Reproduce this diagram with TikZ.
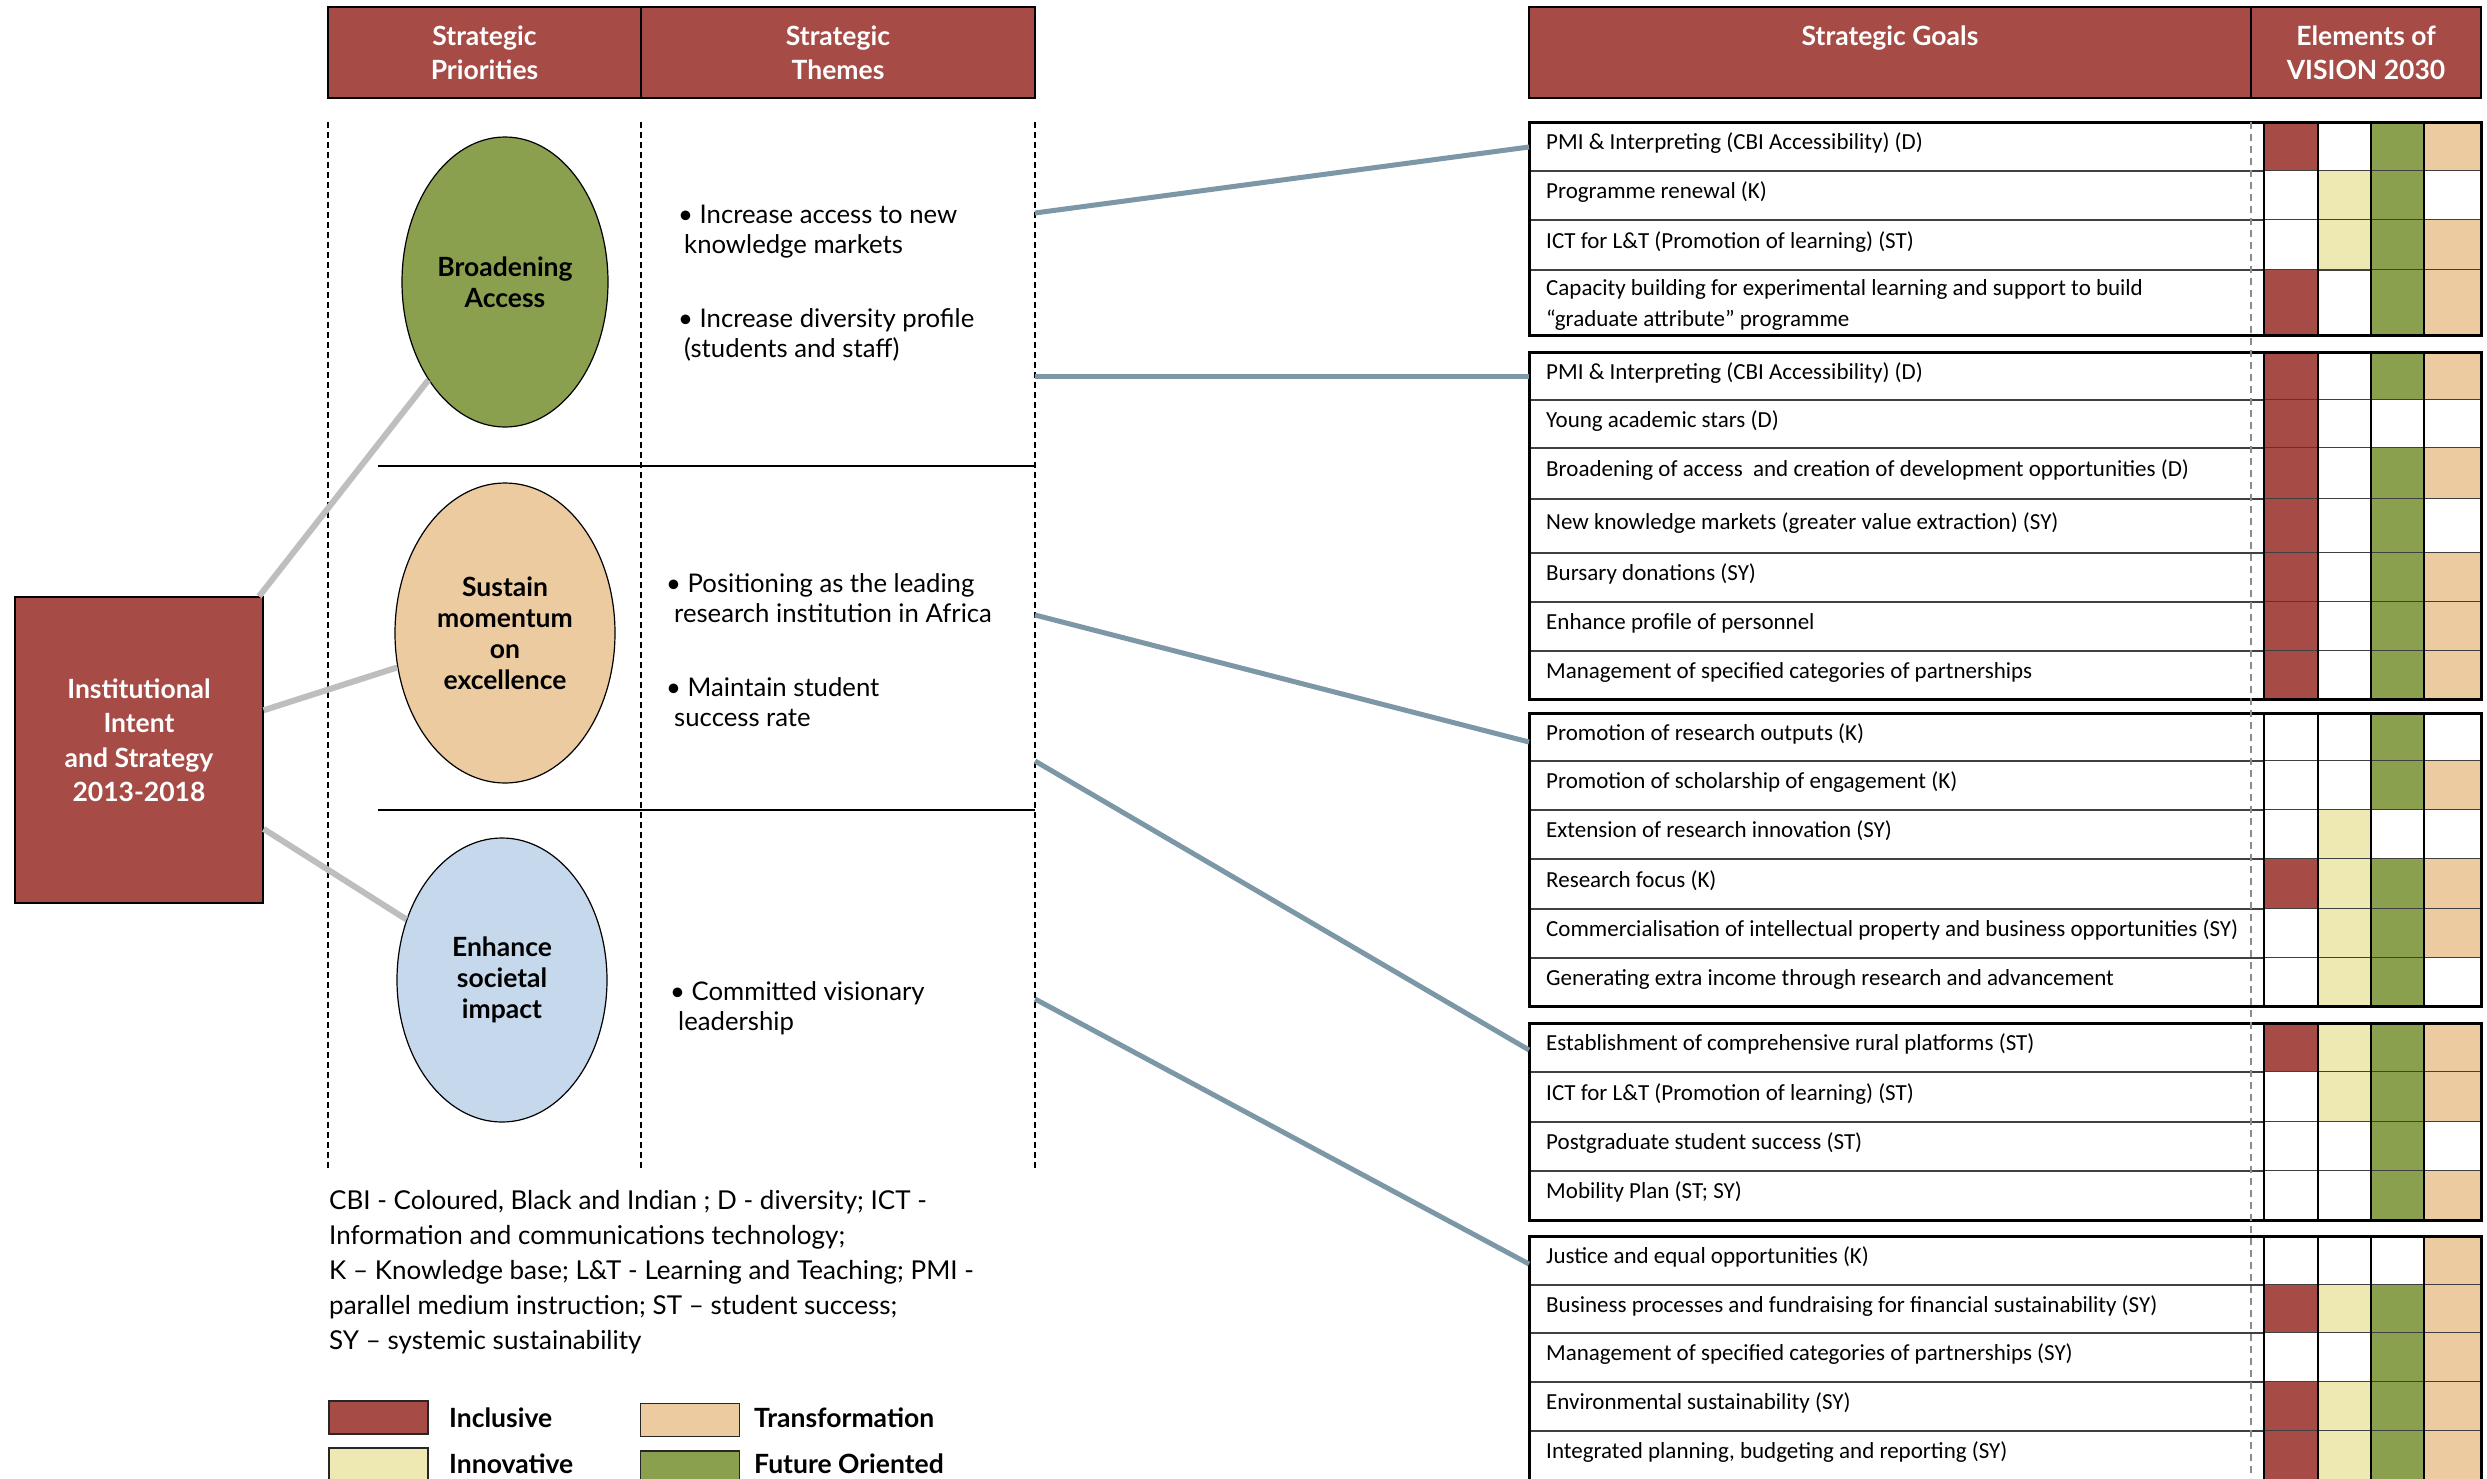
\documentclass[tikz,border=0pt]{standalone}
\usepackage{fontspec}
\setmainfont{Lato}
\newfontfamily\tabfont{Carlito}
\usetikzlibrary{shapes.geometric}
\definecolor{cR}{HTML}{A64B45}
\definecolor{cY}{HTML}{EEE8B2}
\definecolor{cG}{HTML}{8AA04E}
\definecolor{cT}{HTML}{EBCB9F}
\definecolor{cB}{HTML}{C6D8EC}
\definecolor{cW}{HTML}{FFFFFF}
\definecolor{linkblue}{HTML}{7C97A5}
\definecolor{linkgray}{HTML}{BEBEBE}
\tikzset{
  hdrbox/.style={draw=black, line width=1.6pt, fill=cR, inner sep=0pt, text=white, align=center,
     font=\fontsize{26.5}{34}\selectfont\bfseries},
  prio/.style={ellipse, draw=black, line width=1.2pt, inner sep=0pt, align=center,
     font=\fontsize{26.5}{31}\selectfont\bfseries},
  theme/.style={anchor=west, inner sep=0pt, align=left, font=\fontsize{25.7}{30}\selectfont},
  goaltext/.style={anchor=west, inner sep=0pt, align=left, font=\tabfont\fontsize{23}{31}\selectfont},
  vdash/.style={draw=black, line width=1.1pt, dash pattern=on 6pt off 4pt},
  tdash/.style={draw=black!45, line width=1.1pt, dash pattern=on 7pt off 5pt},
  rowline/.style={draw=black!75, line width=1.2pt},
  cellline/.style={draw=black, line width=1.2pt},
  grpborder/.style={draw=black, line width=3pt},
  link/.style={draw=linkblue, line width=5pt},
  graylink/.style={draw=linkgray, line width=6pt},
  legbox/.style={draw=black!85, line width=1.6pt, minimum width=99pt, minimum height=33pt, inner sep=0pt},
  leglabel/.style={anchor=west, inner sep=0pt, font=\fontsize{26.5}{30}\selectfont\bfseries},
}
\newcommand\goalrow[8]{%
  \fill[#5] (2264,#2) rectangle (2318,#3);
  \fill[#6] (2318,#2) rectangle (2371,#3);
  \fill[#7] (2371,#2) rectangle (2424,#3);
  \fill[#8] (2424,#2) rectangle (2481,#3);
  \draw[rowline] (1529,#3) -- (2481,#3);
  \node[goaltext] (#1) at (1546,{(#2+#3)/2-3}) {\strut #4\strut};
}
\newcommand\goalgroup[2]{%
  \foreach \gx in {2264,2318,2371,2424} {\draw[cellline] (\gx,#1) -- (\gx,#2);}
  \draw[grpborder] (1529,#1) rectangle (2481,#2);
}
\begin{document}
\begin{tikzpicture}[x=1pt,y=-1pt]
\useasboundingbox (0,0) rectangle (2487,1478);
\fill[white] (0,0) rectangle (2487,1478);

% ---------- left headers
\node[hdrbox, minimum width=313pt, minimum height=91pt] (hprio) at (484.5,52.5) {Strategic\\Priorities};
\node[hdrbox, minimum width=394pt, minimum height=91pt] (htheme) at (838,52.5) {Strategic\\Themes};

% ---------- dashed columns and separators
\draw[vdash] (328,122) -- (328,1168);
\draw[vdash] (641,122) -- (641,1168);
\draw[vdash] (1035,122) -- (1035,1168);
\draw[black, line width=1.5pt] (378,466) -- (1035,466);
\draw[black, line width=1.5pt] (378,810) -- (1035,810);

% ---------- institution box and priorities
\node[draw=black, line width=1.2pt, fill=cR, minimum width=248pt, minimum height=306pt, inner sep=0pt] (inst) at (139,750) {};
\node[text=white, align=center, inner sep=0pt, font=\fontsize{26.5}{34.5}\selectfont\bfseries] (insttxt) at (139,740) {Institutional\\Intent\\and Strategy\\2013-2018};

\node[prio, fill=cG, minimum width=206pt, minimum height=290pt] (e1) at (505,282) {Broadening\\Access};
\node[prio, fill=cT, minimum width=220pt, minimum height=300pt] (e2) at (505,633) {Sustain\\momentum\\on\\excellence};
\node[prio, fill=cB, minimum width=210pt, minimum height=284pt] (e3) at (502,980) {Enhance\\societal\\impact};

\draw[graylink] (inst) -- (e1);
\draw[graylink] (inst) -- (e2);
\draw[graylink] (inst) -- (e3);

% ---------- themes
\node[theme] (th1) at (678,232.5) {\strut• Increase access to new\\\hspace*{6pt}knowledge markets\strut};
\node[theme] (th2) at (678,336) {\strut• Increase diversity profile\\\hspace*{6pt}(students and staff)\strut};
\node[theme] (th3) at (666,601) {\strut• Positioning as the leading\\\hspace*{8pt}research institution in Africa\strut};
\node[theme] (th4) at (666,705.5) {\strut• Maintain student\\\hspace*{8pt}success rate\strut};
\node[theme] (th5) at (670,1009.5) {\strut• Committed visionary\\\hspace*{8pt}leadership\strut};

% ---------- notes and legend
\node[anchor=west, inner sep=0pt, align=left, font=\fontsize{26}{35}\selectfont] (notes) at (329,1272)
 {\strut CBI - Coloured, Black and Indian ; D - diversity; ICT -\\
  Information and communications technology;\\
  K – Knowledge base; L\&T - Learning and Teaching; PMI -\\
  parallel medium instruction; ST – student success;\\
  SY – systemic sustainability\strut};
\node[legbox, fill=cR] (lginc) at (378.5,1417.5) {};
\node[legbox, fill=cT] (lgtra) at (690,1420) {};
\node[legbox, fill=cY] (lginn) at (378.5,1464.5) {};
\node[legbox, fill=cG] (lgfut) at (690,1467.5) {};
\node[leglabel] (tinc) at (449,1418) {Inclusive};
\node[leglabel] (ttra) at (754,1418) {Transformation};
\node[leglabel] (tinn) at (449,1464) {Innovative};
\node[leglabel] (tfut) at (754,1464) {Future Oriented};

% ---------- right headers
\node[hdrbox, minimum width=722pt, minimum height=91pt] (hgoal) at (1890,52.5) {Strategic Goals\\\mbox{}};
\node[hdrbox, minimum width=230pt, minimum height=91pt] (hvis) at (2366,52.5) {Elements of\\VISION 2030};

% ---------- group 1
\goalrow{r11}{122}{171}{PMI \& Interpreting (CBI Accessibility) (D)}{cR}{cW}{cG}{cT}
\goalrow{r12}{171}{220}{Programme renewal (K)}{cW}{cY}{cG}{cW}
\goalrow{r13}{220}{270}{ICT for L\&T (Promotion of learning) (ST)}{cW}{cY}{cG}{cT}
\goalrow{r14}{280}{335}{Capacity building for experimental learning and support to build\\“graduate attribute” programme}{cR}{cW}{cG}{cT}
\fill[cR] (2264,270) rectangle (2318,280);
\fill[cG] (2371,270) rectangle (2424,280);
\fill[cT] (2424,270) rectangle (2481,280);
\goalgroup{122}{335}
% ---------- group 2
\goalrow{r21}{352}{400}{PMI \& Interpreting (CBI Accessibility) (D)}{cR}{cW}{cG}{cT}
\goalrow{r22}{400}{448}{Young academic stars (D)}{cR}{cW}{cW}{cW}
\goalrow{r23}{448}{499}{Broadening of access \ and creation of development opportunities (D)}{cR}{cW}{cG}{cT}
\goalrow{r24}{499}{553}{New knowledge markets (greater value extraction) (SY)}{cR}{cW}{cG}{cW}
\goalrow{r25}{553}{602}{Bursary donations (SY)}{cR}{cW}{cG}{cT}
\goalrow{r26}{602}{651}{Enhance profile of personnel}{cR}{cW}{cG}{cT}
\goalrow{r27}{651}{699}{Management of specified categories of partnerships}{cR}{cW}{cG}{cT}
\goalgroup{352}{699}
% ---------- group 3
\goalrow{r31}{713}{761}{Promotion of research outputs (K)}{cW}{cW}{cG}{cW}
\goalrow{r32}{761}{810}{Promotion of scholarship of engagement (K)}{cW}{cW}{cG}{cT}
\goalrow{r33}{810}{859}{Extension of research innovation (SY)}{cW}{cY}{cW}{cW}
\goalrow{r34}{859}{909}{Research focus (K)}{cR}{cY}{cG}{cT}
\goalrow{r35}{909}{958}{Commercialisation of intellectual property and business opportunities (SY)}{cW}{cY}{cG}{cT}
\goalrow{r36}{958}{1006}{Generating extra income through research and advancement}{cW}{cY}{cG}{cW}
\goalgroup{713}{1006}
% ---------- group 4
\goalrow{r41}{1023}{1072}{Establishment of comprehensive rural platforms (ST)}{cR}{cY}{cG}{cT}
\goalrow{r42}{1072}{1122}{ICT for L\&T (Promotion of learning) (ST)}{cW}{cY}{cG}{cT}
\goalrow{r43}{1122}{1171}{Postgraduate student success (ST)}{cW}{cW}{cG}{cW}
\goalrow{r44}{1171}{1220}{Mobility Plan (ST; SY)}{cW}{cW}{cG}{cT}
\goalgroup{1023}{1220}
% ---------- group 5
\goalrow{r51}{1236}{1285}{Justice and equal opportunities (K)}{cW}{cW}{cW}{cT}
\goalrow{r52}{1285}{1333}{Business processes and fundraising for financial sustainability (SY)}{cR}{cY}{cG}{cT}
\goalrow{r53}{1333}{1382}{Management of specified categories of partnerships (SY)}{cW}{cW}{cG}{cT}
\goalrow{r54}{1382}{1431}{Environmental sustainability (SY)}{cR}{cY}{cG}{cT}
\goalrow{r55}{1431}{1480}{Integrated planning, budgeting and reporting (SY)}{cR}{cY}{cG}{cT}
\goalgroup{1236}{1495}

\draw[tdash] (2251,122) -- (2251,1478);

% ---------- connectors themes -> goals
\coordinate (t1) at (1035,213);
\coordinate (t2) at (1035,376);
\coordinate (t3) at (1035,615);
\coordinate (t4) at (1035,761);
\coordinate (t5) at (1035,999);
\coordinate (g1) at (1529,147);
\coordinate (g2) at (1529,376);
\coordinate (g3) at (1529,742);
\coordinate (g4) at (1529,1050);
\coordinate (g5) at (1529,1264);
\draw[link] (t1) -- (g1);
\draw[link] (t2) -- (g2);
\draw[link] (t3) -- (g3);
\draw[link] (t4) -- (g4);
\draw[link] (t5) -- (g5);
\end{tikzpicture}
\end{document}
